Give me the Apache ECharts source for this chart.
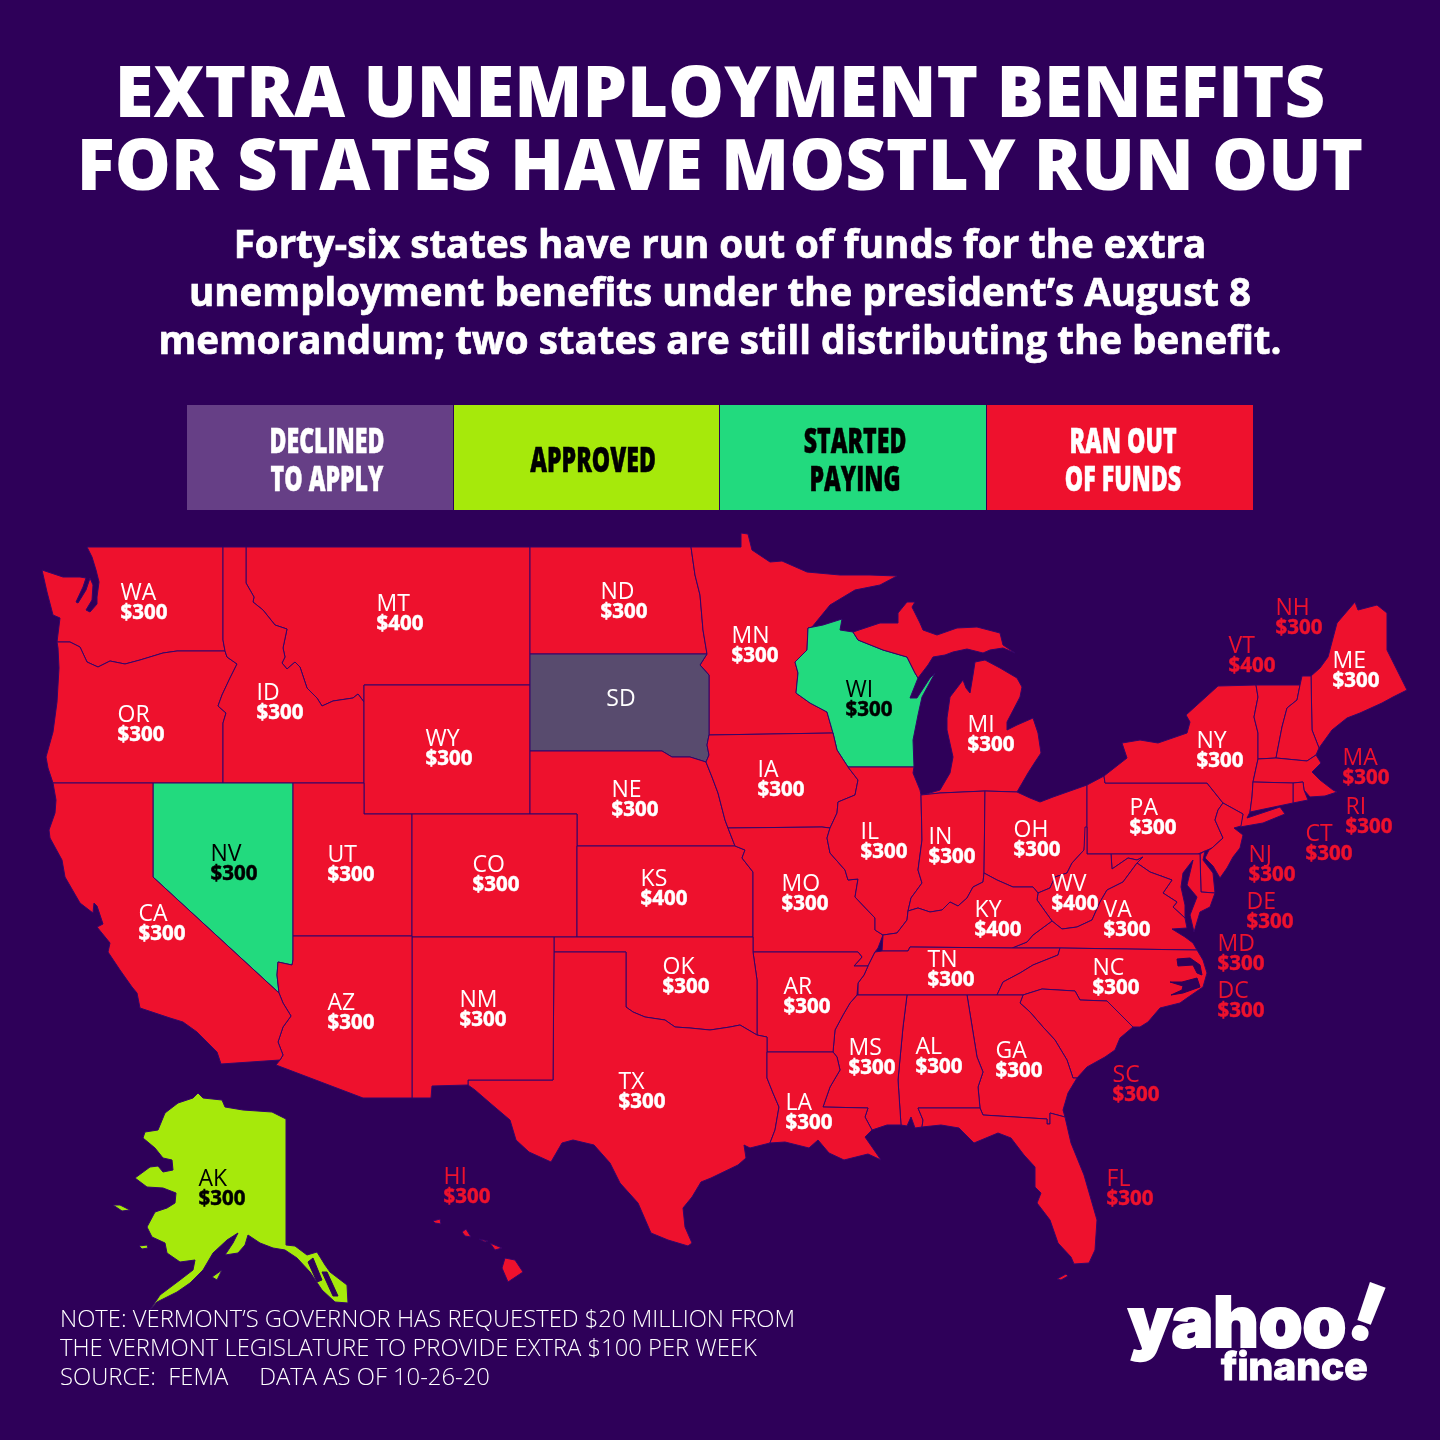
<!doctype html>
<html>
<head>
<meta charset="utf-8">
<title>Extra unemployment benefits</title>
<style>html,body{margin:0;background:#2e0059}#main{width:1440px;height:1440px}</style>
</head>
<body>
<div id="main"></div>
<script src="https://cdn.jsdelivr.net/npm/echarts@6/dist/echarts.min.js"></script>
<script>
var titleLines = ['EXTRA UNEMPLOYMENT BENEFITS', 'FOR STATES HAVE MOSTLY RUN OUT'];
var subtitleLines = [
    'Forty-six states have run out of funds for the extra',
    'unemployment benefits under the president\u2019s August 8',
    'memorandum; two states are still distributing the benefit.'
];
var noteLines = [
    'NOTE: VERMONT\u2019S GOVERNOR HAS REQUESTED $20 MILLION FROM',
    'THE VERMONT LEGISLATURE TO PROVIDE EXTRA $100 PER WEEK',
    'SOURCE:  FEMA     DATA AS OF 10-26-20'
];

var legendLabels = ['DECLINED\nTO APPLY', 'APPROVED', 'STARTED\nPAYING', 'RAN OUT\nOF FUNDS'];
var legendStatus = ['declined', 'approved', 'paying', 'ranOut'];

var stateCodes = ['WA','MT','ND','MN','OR','ID','WY','SD','WI','MI','NE','IA','NV','UT','CO','KS','MO','IL','IN','OH','PA','NY','ME','VT','NH','MA','RI','CT','NJ','DE','MD','DC','WV','VA','KY','TN','NC','SC','GA','AL','MS','AR','OK','TX','LA','NM','AZ','CA','AK','HI','FL'];
var stateBenefits = [300,400,300,300,300,300,300,null,300,300,300,300,300,300,300,400,300,300,300,300,300,300,300,400,300,300,300,300,300,300,300,300,400,300,400,300,300,300,300,300,300,300,300,300,300,300,300,300,300,300,300];
var startedPaying = ['WI','NV'];
var approvedStates = ['AK'];
var declinedStates = ['SD'];
// these sit in the water next to their state, so the label is red on purple
var offshoreLabels = ['NH','VT','MA','RI','CT','NJ','DE','MD','DC','SC','FL','HI'];

// outlines, in picture pixels
var stateOutlines = {
    WA: [[[87,547],[223,547],[223,640],[225,651],[177,651],[163,653],[140,660],[125,664],[110,661],[98,667],[87,662],[80,647],[70,642],[57,642],[60,618],[53,615],[47,592],[42,570],[63,577],[77,577],[80,577],[86,578],[83,587],[76,602],[78,603],[86,590],[90,578],[93,585],[92,600],[86,610],[90,612],[97,604],[97,597],[99,582],[96,570],[92,557]]],
    OR: [[[57,642],[70,642],[80,647],[87,662],[98,667],[110,661],[125,664],[140,660],[163,653],[177,651],[225,651],[227,657],[237,664],[230,678],[222,695],[218,706],[226,713],[223,723],[223,783],[53,783],[48,768],[46,757],[53,732],[57,702],[59,668],[58,648]]],
    ID: [[[223,547],[246,547],[246,583],[254,597],[253,602],[263,610],[275,625],[287,629],[283,648],[285,657],[282,663],[287,669],[295,662],[300,667],[307,688],[317,698],[322,706],[333,701],[353,698],[358,694],[364,702],[364,783],[223,783],[223,723],[226,713],[218,706],[222,695],[230,678],[237,664],[227,657],[225,651],[223,640]]],
    MT: [[[246,547],[530,547],[530,685],[364,685],[364,702],[358,694],[353,698],[333,701],[322,706],[317,698],[307,688],[300,667],[295,662],[287,669],[282,663],[285,657],[283,648],[287,629],[275,625],[263,610],[253,602],[254,597],[246,583]]],
    WY: [[[364,685],[530,685],[530,814],[364,814]]],
    ND: [[[530,547],[691,547],[695,575],[700,595],[703,630],[707,654],[530,654]]],
    SD: [[[530,654],[707,654],[700,665],[709,675],[709,735],[707,745],[709,755],[706,762],[690,757],[672,757],[662,751],[530,751]]],
    NE: [[[530,751],[662,751],[672,757],[690,757],[706,762],[712,777],[718,793],[725,820],[728,828],[735,846],[577,846],[577,814],[530,814]]],
    KS: [[[577,846],[735,846],[745,850],[742,858],[753,872],[753,937],[577,937]]],
    OK: [[[554,937],[753,937],[753,952],[757,980],[757,1035],[740,1025],[730,1027],[710,1030],[690,1028],[675,1027],[665,1020],[645,1017],[633,1012],[626,1007],[626,952],[554,952]]],
    TX: [[[554,952],[626,952],[626,1007],[633,1012],[645,1017],[665,1020],[675,1027],[690,1028],[710,1030],[730,1027],[740,1025],[757,1035],[767,1037],[767,1078],[773,1093],[779,1107],[775,1130],[770,1143],[750,1148],[744,1145],[746,1158],[738,1165],[711,1178],[701,1182],[692,1197],[683,1208],[685,1227],[692,1243],[688,1246],[668,1240],[651,1233],[638,1203],[620,1183],[610,1163],[594,1145],[573,1140],[562,1143],[551,1162],[529,1152],[516,1140],[510,1120],[490,1103],[475,1090],[468,1085],[468,1080],[553,1080]]],
    NM: [[[412,937],[554,937],[554,952],[553,1080],[468,1080],[468,1085],[432,1086],[431,1098],[412,1098]]],
    CO: [[[412,814],[577,814],[577,937],[412,937]]],
    UT: [[[293,783],[364,783],[364,814],[412,814],[412,936],[293,936]]],
    AZ: [[[293,936],[412,936],[412,1098],[363,1098],[276,1065],[280,1060],[283,1055],[278,1042],[283,1027],[291,1016],[283,1003],[279,993],[277,975],[278,962],[292,965],[293,960]]],
    NV: [[[153,783],[293,783],[293,960],[292,965],[278,962],[277,975],[279,993],[153,877]]],
    CA: [[[53,783],[153,783],[153,877],[279,993],[283,1003],[291,1016],[283,1027],[278,1042],[283,1055],[280,1060],[221,1064],[217,1052],[210,1045],[197,1032],[190,1027],[183,1022],[170,1018],[140,1008],[137,993],[132,987],[120,970],[108,952],[110,943],[97,927],[103,924],[97,906],[94,903],[93,913],[80,903],[65,877],[62,860],[50,838],[49,830],[55,813],[56,800]]],
    MN: [[[691,547],[741,547],[741,533],[748,534],[752,550],[770,562],[782,561],[807,572],[840,575],[870,575],[897,576],[880,585],[855,590],[830,605],[812,627],[808,628],[807,650],[795,662],[798,673],[796,693],[810,703],[827,712],[833,733],[709,735],[709,675],[700,665],[707,654],[703,630],[700,595],[695,575]]],
    IA: [[[709,735],[833,733],[837,750],[848,767],[858,780],[855,795],[838,802],[837,813],[830,828],[822,827],[728,828],[725,820],[718,793],[712,777],[706,762],[709,755],[707,745]]],
    MO: [[[728,828],[822,827],[830,828],[827,838],[830,853],[845,870],[848,880],[858,879],[855,897],[875,918],[875,930],[883,935],[878,948],[875,952],[868,966],[854,966],[862,957],[858,952],[753,952],[753,872],[742,858],[745,850],[735,846]]],
    AR: [[[753,952],[858,952],[862,957],[854,966],[868,966],[864,975],[858,983],[857,995],[850,1003],[843,1015],[835,1030],[833,1052],[767,1052],[767,1037],[757,1035],[757,980]]],
    LA: [[[767,1052],[833,1052],[837,1057],[840,1070],[830,1087],[823,1107],[868,1108],[865,1117],[872,1130],[865,1137],[872,1147],[881,1160],[868,1154],[852,1158],[844,1160],[829,1153],[818,1140],[809,1148],[785,1142],[770,1143],[775,1130],[779,1107],[773,1093],[767,1078]]],
    WI: [[[808,628],[823,625],[842,619],[840,630],[853,632],[858,640],[883,650],[907,657],[915,673],[918,678],[910,698],[917,698],[930,678],[935,673],[922,697],[918,715],[913,740],[914,767],[848,767],[837,750],[833,733],[827,712],[810,703],[796,693],[798,673],[795,662],[807,650]]],
    IL: [[[848,767],[914,767],[913,773],[920,790],[921,795],[922,840],[918,870],[922,883],[911,898],[908,911],[907,920],[897,933],[883,935],[875,930],[875,918],[855,897],[858,879],[848,880],[845,870],[830,853],[827,838],[830,828],[837,813],[838,802],[855,795],[858,780]]],
    IN: [[[921,795],[940,793],[985,791],[984,873],[983,882],[973,887],[967,898],[958,906],[950,902],[942,910],[930,912],[918,908],[908,911],[911,898],[922,883],[918,870],[922,840]]],
    OH: [[[985,791],[1017,792],[1030,798],[1040,802],[1053,797],[1087,785],[1087,827],[1084,850],[1072,863],[1067,873],[1055,877],[1050,888],[1038,893],[1033,887],[1013,887],[997,880],[984,873]]],
    MI: [
        [[853,632],[880,623],[898,623],[898,613],[907,602],[915,602],[912,607],[920,623],[923,630],[937,635],[957,628],[977,627],[1000,633],[1003,645],[1015,653],[1003,648],[990,650],[983,653],[967,649],[953,652],[945,655],[933,657],[928,665],[918,678],[915,673],[907,657],[883,650],[858,640]],
        [[923,795],[940,790],[950,773],[953,757],[947,730],[947,718],[950,697],[963,680],[966,688],[970,693],[973,675],[975,662],[985,660],[1000,668],[1017,678],[1022,687],[1020,697],[1007,722],[1007,730],[1017,725],[1033,718],[1038,733],[1041,753],[1035,762],[1028,773],[1017,792],[985,791],[940,793]]
    ],
    KY: [[[908,911],[918,908],[930,912],[942,910],[950,902],[958,906],[967,898],[973,887],[983,882],[984,873],[997,880],[1013,887],[1033,887],[1038,893],[1037,900],[1052,921],[1033,935],[1027,942],[1012,948],[910,947],[908,951],[882,951],[883,935],[897,933],[907,920]]],
    TN: [[[875,952],[882,951],[908,951],[910,947],[1012,948],[1060,948],[1058,955],[1033,965],[1020,973],[1003,982],[997,995],[858,995],[857,995],[858,983],[864,975],[868,966]]],
    MS: [[[857,995],[907,995],[903,1027],[898,1080],[901,1125],[887,1125],[872,1130],[865,1117],[868,1108],[823,1107],[830,1087],[840,1070],[837,1057],[833,1052],[835,1030],[843,1015],[850,1003]]],
    AL: [[[907,995],[967,995],[977,1057],[983,1072],[978,1087],[980,1108],[918,1108],[923,1120],[922,1127],[915,1128],[911,1117],[907,1126],[901,1125],[898,1080],[903,1027]]],
    GA: [[[967,995],[1023,995],[1020,1003],[1030,1012],[1043,1027],[1055,1040],[1067,1060],[1073,1078],[1077,1078],[1068,1093],[1063,1110],[1065,1117],[1050,1113],[1050,1124],[1047,1124],[1047,1119],[983,1115],[980,1108],[978,1087],[983,1072],[977,1057]]],
    FL: [
        [[918,1108],[980,1108],[983,1115],[1047,1119],[1047,1124],[1050,1124],[1050,1113],[1065,1117],[1071,1143],[1084,1175],[1097,1220],[1095,1250],[1089,1263],[1074,1264],[1071,1257],[1058,1243],[1050,1220],[1037,1203],[1041,1193],[1035,1187],[1035,1167],[1024,1155],[1011,1138],[998,1133],[974,1143],[959,1128],[941,1125],[922,1127],[923,1120]],
        [[1057,1279],[1066,1274],[1068,1276],[1061,1280]]
    ],
    SC: [[[1023,995],[1042,989],[1075,991],[1080,1000],[1107,1001],[1133,1027],[1120,1038],[1115,1050],[1105,1057],[1087,1067],[1077,1078],[1073,1078],[1067,1060],[1055,1040],[1043,1027],[1030,1012],[1020,1003]]],
    NC: [[[1060,948],[1195,950],[1197,950],[1203,960],[1207,973],[1203,987],[1187,998],[1180,1003],[1160,1008],[1148,1022],[1140,1027],[1133,1027],[1107,1001],[1080,1000],[1075,991],[1042,989],[1023,995],[997,995],[1003,982],[1020,973],[1033,965],[1058,955]]],
    VA: [[[1012,948],[1027,942],[1033,935],[1052,921],[1062,929],[1077,927],[1092,920],[1100,902],[1107,890],[1123,882],[1137,863],[1150,872],[1172,880],[1163,893],[1177,902],[1173,907],[1185,918],[1187,928],[1172,929],[1185,937],[1193,943],[1197,950],[1195,950],[1060,948]]],
    WV: [[[1085,827],[1087,827],[1087,854],[1111,854],[1112,869],[1128,858],[1137,860],[1143,857],[1137,863],[1123,882],[1107,890],[1100,902],[1092,920],[1077,927],[1062,929],[1052,921],[1037,900],[1038,893],[1050,888],[1055,877],[1067,873],[1072,863],[1084,850]]],
    MD: [[[1111,854],[1198,854],[1200,854],[1201,892],[1215,893],[1210,907],[1200,912],[1194,932],[1190,915],[1197,897],[1187,885],[1193,860],[1183,873],[1181,887],[1185,905],[1185,918],[1173,907],[1177,902],[1163,893],[1172,880],[1150,872],[1137,863],[1143,857],[1137,860],[1128,858],[1112,869]]],
    DC: [[[1158,877],[1162,876],[1163,880],[1159,881]]],
    DE: [[[1200,854],[1205,851],[1203,860],[1213,873],[1215,893],[1201,892]]],
    PA: [[[1087,785],[1104,776],[1105,783],[1207,783],[1215,793],[1223,803],[1218,810],[1215,820],[1223,838],[1212,848],[1198,854],[1087,854]]],
    NJ: [[[1223,803],[1243,814],[1241,826],[1234,828],[1243,835],[1240,848],[1233,857],[1227,868],[1220,878],[1213,866],[1205,858],[1209,850],[1212,848],[1223,838],[1215,820],[1218,810]]],
    NY: [[[1105,783],[1104,776],[1127,758],[1122,743],[1140,740],[1158,743],[1187,733],[1190,722],[1186,715],[1218,686],[1256,685],[1258,697],[1254,717],[1258,733],[1258,759],[1253,782],[1252,797],[1250,812],[1247,818],[1280,807],[1285,814],[1263,823],[1240,827],[1243,814],[1223,803],[1215,793],[1207,783]]],
    VT: [[[1256,685],[1300,685],[1297,700],[1287,708],[1282,727],[1276,758],[1258,759],[1258,733],[1254,717],[1258,697]]],
    NH: [[[1300,685],[1302,676],[1311,676],[1312,730],[1319,748],[1316,755],[1307,761],[1276,758],[1282,727],[1287,708],[1297,700]]],
    ME: [[[1311,676],[1320,668],[1328,657],[1337,623],[1355,602],[1358,610],[1377,605],[1387,613],[1387,650],[1407,690],[1393,697],[1382,703],[1360,713],[1347,718],[1332,730],[1319,748],[1312,730]]],
    MA: [[[1258,759],[1276,758],[1307,761],[1316,755],[1321,763],[1312,772],[1320,780],[1333,790],[1337,792],[1325,796],[1310,797],[1304,790],[1303,782],[1293,783],[1253,782]]],
    CT: [[[1253,782],[1293,783],[1293,803],[1250,812],[1252,797]]],
    RI: [[[1293,783],[1303,782],[1304,790],[1308,800],[1293,803]]],
    AK: [
        [[198,1093],[203,1098],[222,1100],[225,1107],[243,1110],[272,1112],[286,1119],[286,1245],[295,1246],[307,1255],[317,1252],[325,1265],[330,1272],[347,1285],[348,1303],[335,1302],[322,1290],[310,1272],[297,1258],[285,1250],[273,1248],[260,1243],[248,1235],[245,1245],[238,1253],[225,1255],[233,1243],[238,1233],[227,1240],[213,1253],[203,1270],[190,1283],[177,1292],[157,1302],[150,1310],[160,1295],[180,1280],[193,1270],[195,1260],[180,1262],[167,1253],[165,1243],[152,1237],[147,1227],[155,1212],[167,1208],[175,1203],[176,1193],[163,1188],[147,1187],[135,1178],[150,1167],[158,1166],[163,1172],[173,1170],[172,1160],[163,1158],[155,1148],[143,1138],[145,1132],[158,1130],[165,1113],[178,1103],[193,1098]],
        [[113,1205],[120,1205],[130,1210],[122,1211]],
        [[139,1246],[147,1245],[148,1248],[142,1249]],
        [[212,1277],[222,1270],[217,1280]]
    ],
    HI: [
        [[505,1258],[515,1260],[523,1272],[508,1282],[502,1268]],
        [[490,1243],[502,1248],[495,1250]],
        [[479,1239],[488,1241],[485,1242]],
        [[462,1232],[466,1229],[471,1237],[465,1236]],
        [[433,1221],[440,1219],[441,1224],[435,1223]]
    ]
};

// sounds and channels that sit inside a state's outline
var waterOutlines = [
    [[1177,959],[1190,958],[1200,965],[1202,975],[1197,973],[1193,965],[1178,966]],
    [[1170,982],[1182,982],[1197,978],[1200,987],[1183,993],[1171,995],[1182,990],[1183,986]],
    [[308,1262],[313,1258],[322,1280],[317,1282]],
    [[322,1272],[327,1272],[338,1296],[333,1296]]
];

// centre of each two line label in picture pixels
var labelAnchors = {
    WA:[144,601],MT:[400,612],ND:[624,600],MN:[755,644],OR:[141,723],ID:[280,701],WY:[449,747],SD:[621,697],
    WI:[869,698],MI:[991,733],NE:[635,798],IA:[781,778],NV:[234,862],UT:[351,863],CO:[496,873],KS:[664,887],
    MO:[805,892],IL:[884,840],IN:[952,845],OH:[1037,838],PA:[1153,816],NY:[1220,749],ME:[1356,669],VT:[1252,654],
    NH:[1299,616],MA:[1366,766],RI:[1369,815],CT:[1329,842],NJ:[1272,863],DE:[1270,910],MD:[1241,952],DC:[1241,999],
    WV:[1075,892],VA:[1127,918],KY:[998,918],TN:[951,968],NC:[1116,976],SC:[1136,1083],GA:[1019,1059],AL:[939,1055],
    MS:[872,1056],AR:[807,995],OK:[686,975],TX:[642,1090],LA:[809,1111],NM:[483,1008],AZ:[351,1011],CA:[162,922],
    AK:[222,1187],HI:[467,1185],FL:[1130,1187]
};

var statusColors = { declined: '#663f86', approved: '#a6e90b', paying: '#22da7e', ranOut: '#ee112d' };
var declinedMapColor = '#584b6e';
var bgColor = '#2e0059';

function statusOf(code) {
    if (startedPaying.indexOf(code) >= 0) return 'paying';
    if (approvedStates.indexOf(code) >= 0) return 'approved';
    if (declinedStates.indexOf(code) >= 0) return 'declined';
    return 'ranOut';
}

function labelColor(code) {
    if (offshoreLabels.indexOf(code) >= 0) return statusColors.ranOut;
    var s = statusOf(code);
    return (s === 'paying' || s === 'approved') ? '#000' : '#fff';
}

var usGeo = {
    type: 'FeatureCollection',
    features: stateCodes.map(function (code) {
        return {
            type: 'Feature',
            properties: { name: code, cp: labelAnchors[code] },
            geometry: { type: 'MultiPolygon', coordinates: stateOutlines[code].map(function (ring) { return [ring]; }) }
        };
    }).concat([{
        type: 'Feature',
        properties: { name: 'water', cp: [0, 0] },
        geometry: { type: 'MultiPolygon', coordinates: waterOutlines.map(function (ring) { return [ring]; }) }
    }])
};
echarts.registerMap('usStates', usGeo);

var chart = echarts.init(document.getElementById('main'), null, { renderer: 'canvas' });

var legendX = [187, 454, 720, 987];
var legendWidth = [266, 265, 266, 266];
var legendTextX = [327, 593, 855, 1123];
var legendGraphics = [];
legendLabels.forEach(function (txt, i) {
    var dark = legendStatus[i] === 'approved' || legendStatus[i] === 'paying';
    var ink = dark ? '#000' : '#fff';
    legendGraphics.push({
        type: 'rect',
        shape: { x: legendX[i], y: 405, width: legendWidth[i], height: 105 },
        style: { fill: statusColors[legendStatus[i]] }
    });
    legendGraphics.push({
        type: 'text',
        x: legendTextX[i],
        y: 462,
        scaleX: 0.7,
        scaleY: 1.06,
        style: {
            text: txt,
            fill: ink,
            stroke: ink,
            lineWidth: 0.5,
            font: '800 33px "Open Sans"',
            lineHeight: 35,
            align: 'center',
            verticalAlign: 'middle'
        }
    });
});

var mapData = stateCodes.map(function (code, i) {
    var s = statusOf(code);
    var amt = stateBenefits[i];
    var col = labelColor(code);
    return {
        name: code,
        value: amt,
        itemStyle: { areaColor: s === 'declined' ? declinedMapColor : statusColors[s] },
        label: {
            offset: [0, 2],
            formatter: amt === null ? '{c|' + code + '}' : '{c|' + code + '}\n{a|$' + amt + '}',
            rich: {
                c: { color: col, fontFamily: 'Open Sans', fontSize: 23, lineHeight: 20, fontWeight: 400, align: 'left' },
                a: { color: col, fontFamily: 'Open Sans', fontSize: 20.5, lineHeight: 20, fontWeight: 700, align: 'left', textBorderColor: col, textBorderWidth: 0.5 }
            }
        }
    };
});
mapData.push({ name: 'water', itemStyle: { areaColor: bgColor, borderColor: bgColor }, label: { show: false } });

chart.setOption({
    backgroundColor: bgColor,
    animation: false,
    title: [{
        text: titleLines.join('\n'),
        left: 'center',
        top: 55,
        textStyle: { color: '#fff', fontFamily: 'Open Sans', fontWeight: 800, fontSize: 70.5, lineHeight: 73, align: 'center' }
    }, {
        text: subtitleLines.join('\n'),
        left: 'center',
        top: 218,
        textStyle: { color: '#fff', fontFamily: 'Open Sans', fontWeight: 700, fontSize: 38.5, lineHeight: 48, align: 'center', textBorderColor: '#fff', textBorderWidth: 0.7 }
    }, {
        text: noteLines.join('\n'),
        left: 55,
        top: 1301,
        textStyle: { color: '#fff', fontFamily: 'Open Sans', fontWeight: 300, fontSize: 23.8, lineHeight: 29 }
    }],
    graphic: legendGraphics.concat([{
        type: 'text', x: 1128, y: 1326,
        style: { text: 'yahoo', fill: '#fff', stroke: '#fff', lineWidth: 2, font: '900 70px Inter', verticalAlign: 'middle' }
    }, {
        type: 'text', x: 1366, y: 1317, rotation: -0.35,
        style: { text: '!', fill: '#fff', font: '900 80px Inter', align: 'center', verticalAlign: 'middle' }
    }, {
        type: 'text', x: 1221, y: 1368,
        style: { text: 'finance', fill: '#fff', stroke: '#fff', lineWidth: 1, font: '800 39px Inter', verticalAlign: 'middle' }
    }]),
    series: [{
        type: 'map',
        map: 'usStates',
        silent: true,
        aspectScale: 1,
        projection: {
            project: function (p) { return p; },
            unproject: function (p) { return p; }
        },
        boundingCoords: [[0, 0], [1440, 1440]],
        layoutCenter: ['50%', '50%'],
        layoutSize: 1440,
        roam: false,
        itemStyle: { borderColor: '#33056a', borderWidth: 1 },
        label: { show: true },
        data: mapData
    }]
});
</script>
</body>
</html>
